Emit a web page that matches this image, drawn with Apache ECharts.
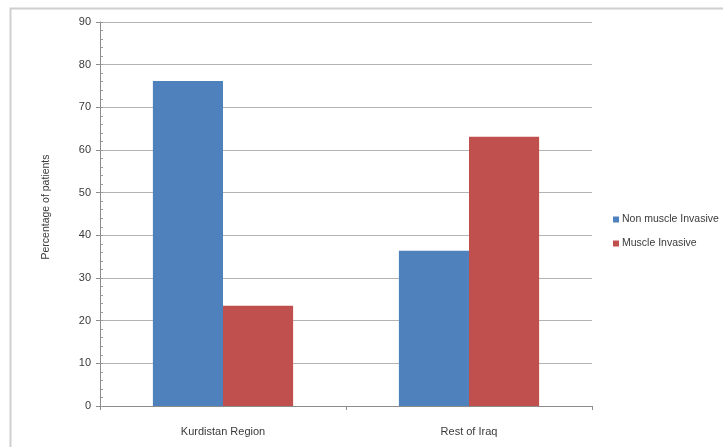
<!DOCTYPE html>
<html>
<head>
<meta charset="utf-8">
<script src="https://cdn.jsdelivr.net/npm/echarts@6/dist/echarts.min.js"></script>
<style>
  html, body { margin: 0; padding: 0; background: #fff; }
  #chart { width: 723px; height: 447px; }
</style>
</head>
<body>
<div id="chart"></div>
<script>
// Stage of bladder tumour at presentation, by region
const categories = ['Kurdistan Region', 'Rest of Iraq'];
const seriesNames = ['Non muscle Invasive', 'Muscle Invasive'];
const nonMuscleInvasive = [76.2, 36.4];
const muscleInvasive = [23.5, 63.1];
const yTicks = [0, 10, 20, 30, 40, 50, 60, 70, 80, 90];

const chart = echarts.init(document.getElementById('chart'), null, { renderer: 'canvas' });
const font = '"Liberation Sans", "DejaVu Sans", sans-serif';

chart.setOption({
  animation: false,
  backgroundColor: '#fff',
  color: ['#4F81BD', '#C0504D'],
  graphic: [
    {
      type: 'rect',
      shape: { x: 10.5, y: 8.5, width: 740, height: 460 },
      style: { fill: 'none', stroke: '#cfcfcf', lineWidth: 2 },
      silent: true
    }
  ],
  legend: {
    orient: 'vertical',
    left: 608,
    top: 209,
    itemWidth: 6,
    itemHeight: 6,
    itemGap: 13,
    icon: 'rect',
    textStyle: { fontFamily: font, fontSize: 10.5, color: '#3a3a3a', padding: [0, 0, 0, -2] },
    data: seriesNames
  },
  grid: { left: 100, right: 131, top: 22, bottom: 41, containLabel: false },
  xAxis: {
    type: 'category',
    data: categories,
    axisLine: { lineStyle: { color: '#8c8c8c', width: 1 } },
    axisTick: { show: true, length: 4, lineStyle: { color: '#8c8c8c' } },
    axisLabel: { fontFamily: font, fontSize: 11, color: '#3a3a3a', margin: 20 }
  },
  yAxis: [
    {
      type: 'value',
      min: yTicks[0],
      max: yTicks[yTicks.length - 1],
      interval: 10,
      name: 'Percentage of patients',
      nameLocation: 'middle',
      nameGap: 48,
      nameTextStyle: { fontFamily: font, fontSize: 10.5, color: '#3a3a3a', padding: [0, 0, 0, 14] },
      axisLine: { show: true, lineStyle: { color: '#8c8c8c' } },
      axisTick: { show: true, length: 4, lineStyle: { color: '#8c8c8c' } },
      axisLabel: { fontFamily: font, fontSize: 11, color: '#3a3a3a', margin: 9 },
      splitLine: { show: true, lineStyle: { color: '#b3b3b3', width: 1 } }
    },
    {
      // inside minor ticks on the value axis
      type: 'value',
      position: 'left',
      min: 0,
      max: 90,
      interval: 2,
      axisLine: { show: false },
      axisTick: { show: true, inside: true, length: 3, lineStyle: { color: '#9a9a9a' } },
      axisLabel: { show: false },
      splitLine: { show: false }
    }
  ],
  series: [
    {
      name: seriesNames[0],
      type: 'bar',
      data: nonMuscleInvasive,
      barGap: '0%',
      barCategoryGap: '43%'
    },
    {
      name: seriesNames[1],
      type: 'bar',
      data: muscleInvasive,
      barGap: '0%',
      barCategoryGap: '43%'
    }
  ]
});
</script>
</body>
</html>
